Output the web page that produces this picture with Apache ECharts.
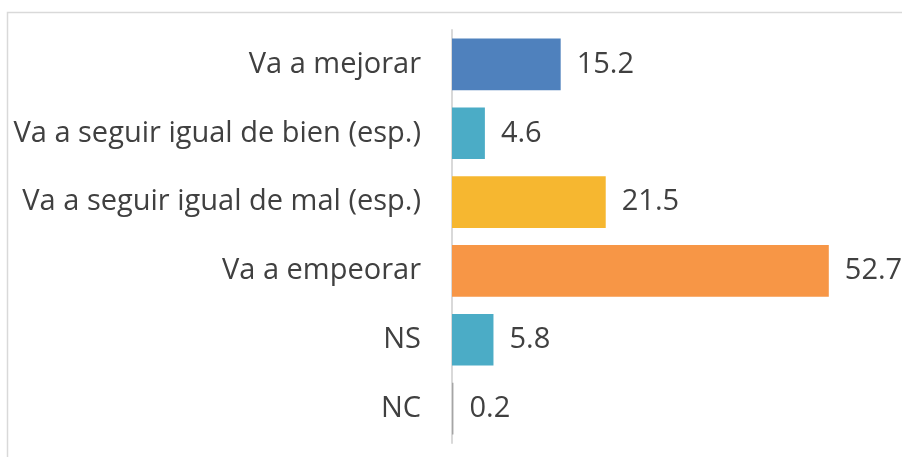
<!DOCTYPE html>
<html>
<head>
<meta charset="utf-8">
<script src="https://cdn.jsdelivr.net/npm/echarts@6/dist/echarts.min.js"></script>
<style>
  html, body { margin: 0; padding: 0; background: #fff; }
  #chart { width: 902px; height: 457px; }
</style>
</head>
<body>
<div id="chart"></div>
<script>
"use strict";
const categories = ['Va a mejorar', 'Va a seguir igual de bien (esp.)', 'Va a seguir igual de mal (esp.)', 'Va a empeorar', 'NS', 'NC'];
const values = [15.2, 4.6, 21.5, 52.7, 5.8, 0.2];
const colors = ['#4F81BD', '#4BACC6', '#F6B730', '#F79646', '#4BACC6', '#A5A5A5'];

(() => {
    let chart = echarts.init(document.getElementById('chart'));
    let option = {
        animation: false,
        graphic: [{
            type: 'rect',
            left: 5, top: 10,
            shape: { width: 920, height: 470 },
            style: { fill: 'none', stroke: '#D9D9D9', lineWidth: 1.5 }
        }],
        grid: { left: 452, right: 21, top: 30, bottom: 14 },
        xAxis: {
            type: 'value',
            min: 0, max: 60,
            show: false
        },
        yAxis: {
            type: 'category',
            inverse: true,
            data: categories,
            axisLine: { lineStyle: { color: '#D9D9D9', width: 2 } },
            axisTick: { show: false },
            axisLabel: {
                margin: 31,
                color: '#404040',
                fontSize: 29,
                fontFamily: 'Open Sans'
            }
        },
        series: [{
            type: 'bar',
            barWidth: '75%',
            data: values.map((v, i) => ({ value: v, itemStyle: { color: colors[i] } })),
            label: {
                show: true,
                position: 'right',
                distance: 16,
                color: '#404040',
                fontSize: 29,
                fontFamily: 'Open Sans'
            }
        }]
    };
    chart.setOption(option);
})();
</script>
</body>
</html>
